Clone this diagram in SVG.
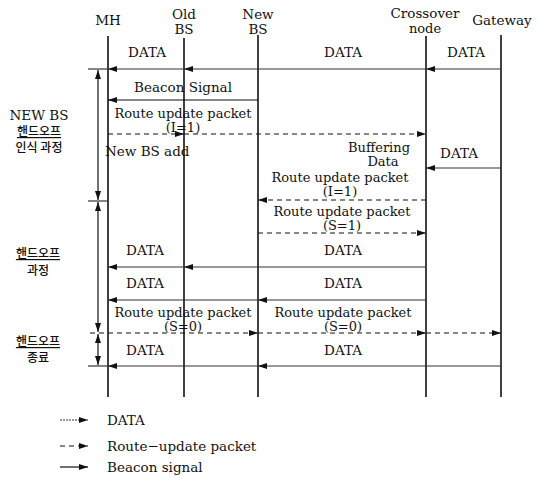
<svg xmlns="http://www.w3.org/2000/svg" width="540" height="478" viewBox="0 0 540 478">
<defs>
<marker id="ah" markerUnits="userSpaceOnUse" markerWidth="9" markerHeight="6" refX="9" refY="3" orient="auto-start-reverse">
<path d="M0,0 L9,3 L0,6 z" fill="#111"/>
</marker>
<style>
text{font-family:"DejaVu Serif","Liberation Serif","Noto Sans CJK KR",serif;font-size:13.5px;fill:#111;text-anchor:middle}
.sm{font-size:13px}
.ko{font-family:"Noto Sans CJK KR","DejaVu Serif",sans-serif;font-size:12px;font-weight:500}
.u{text-decoration:underline}
.life{stroke:#111;stroke-width:1.6;fill:none}
.data{stroke:#333;stroke-width:1.2;fill:none}
.solid{stroke:#111;stroke-width:1.2;fill:none}
.dash{stroke:#111;stroke-width:1.2;fill:none;stroke-dasharray:5 4}
.arr{marker-end:url(#ah)}
.br{stroke:#111;stroke-width:1.2;fill:none;marker-start:url(#ah);marker-end:url(#ah)}
.st{text-anchor:start}
</style>
</defs>
<rect width="540" height="478" fill="#fff"/>

<g id="MH"><text x="108" y="25">MH</text><line class="life" x1="108" y1="36" x2="108" y2="397"/></g>
<g id="OldBS"><text x="184" y="19">Old</text><text x="184" y="34">BS</text><line class="life" x1="184" y1="38" x2="184" y2="397"/></g>
<g id="NewBS"><text x="258" y="19">New</text><text x="258" y="34">BS</text><line class="life" x1="258" y1="35" x2="258" y2="397"/></g>
<g id="Crossover"><text x="425" y="18">Crossover</text><text class="sm" x="425" y="33">node</text><line class="life" x1="426" y1="36" x2="426" y2="397"/></g>
<g id="Gateway"><text x="502" y="25">Gateway</text><line class="life" x1="501" y1="35" x2="501" y2="397"/></g>

<g id="phases">
<text x="39" y="120">NEW BS</text>
<text class="ko u" x="39" y="136">핸드오프</text>
<text class="ko" x="39" y="152">인식 과정</text>
<text class="ko u" x="38" y="258">핸드오프</text>
<text class="ko" x="38" y="275">과정</text>
<text class="ko u" x="38" y="346">핸드오프</text>
<text class="ko" x="38" y="362">종료</text>
</g>

<g id="labels">
<text x="147" y="57">DATA</text>
<text x="343" y="57">DATA</text>
<text x="466" y="57">DATA</text>
<text x="183" y="92">Beacon Signal</text>
<text class="sm" x="183" y="118">Route update packet</text>
<text class="sm" x="183" y="132">(I=1)</text>
<text class="st" x="105" y="156">New BS add</text>
<text class="sm" x="379" y="152">Buffering</text>
<text class="sm" x="383" y="166">Data</text>
<text x="459" y="158">DATA</text>
<text class="sm" x="340" y="182">Route update packet</text>
<text class="sm" x="340" y="196">(I=1)</text>
<text class="sm" x="342" y="216">Route update packet</text>
<text class="sm" x="342" y="230">(S=1)</text>
<text x="145" y="255">DATA</text>
<text x="343" y="255">DATA</text>
<text x="145" y="288">DATA</text>
<text x="343" y="288">DATA</text>
<text class="sm" x="183" y="317">Route update packet</text>
<text class="sm" x="183" y="331">(S=0)</text>
<text class="sm" x="343" y="317">Route update packet</text>
<text class="sm" x="343" y="331">(S=0)</text>
<text x="145" y="355">DATA</text>
<text x="343" y="355">DATA</text>
</g>

<g id="connectors">
<line class="data" x1="88" y1="69" x2="108" y2="69"/>
<line class="data arr" x1="501" y1="69" x2="426" y2="69"/>
<line class="data arr" x1="426" y1="69" x2="184" y2="69"/>
<line class="data arr" x1="184" y1="69" x2="108" y2="69"/>
<line class="solid arr" x1="258" y1="100" x2="108" y2="100"/>
<line class="dash arr" x1="108" y1="134" x2="184" y2="134"/>
<line class="dash arr" x1="184" y1="134" x2="426" y2="134"/>
<line class="data arr" x1="501" y1="168" x2="426" y2="168"/>
<line class="dash arr" x1="426" y1="200" x2="258" y2="200"/>
<line class="data" x1="88" y1="201" x2="108" y2="201"/>
<line class="dash arr" x1="258" y1="233" x2="426" y2="233"/>
<line class="data arr" x1="426" y1="267" x2="184" y2="267"/>
<line class="data arr" x1="184" y1="267" x2="108" y2="267"/>
<line class="data arr" x1="426" y1="300" x2="258" y2="300"/>
<line class="data arr" x1="258" y1="300" x2="108" y2="300"/>
<line class="dash arr" x1="90" y1="333" x2="258" y2="333"/>
<line class="dash arr" x1="258" y1="333" x2="426" y2="333"/>
<line class="dash arr" x1="426" y1="333" x2="501" y2="333"/>
<line class="data" x1="88" y1="366" x2="108" y2="366"/>
<line class="data arr" x1="501" y1="366" x2="258" y2="366"/>
<line class="data arr" x1="258" y1="366" x2="108" y2="366"/>
<line class="br" x1="98" y1="70" x2="98" y2="200"/>
<line class="br" x1="98" y1="202" x2="98" y2="332"/>
<line class="br" x1="98" y1="334" x2="98" y2="365"/>
</g>

<g id="legend">
<line class="data arr" x1="60" y1="420" x2="88" y2="420" style="stroke-dasharray:2 1"/>
<text class="st" x="107" y="425">DATA</text>
<line class="dash arr" x1="60" y1="446" x2="88" y2="446"/>
<text class="st" x="107" y="451">Route−update packet</text>
<line class="solid arr" x1="60" y1="467" x2="88" y2="467"/>
<text class="st" x="107" y="472">Beacon signal</text>
</g>
</svg>
